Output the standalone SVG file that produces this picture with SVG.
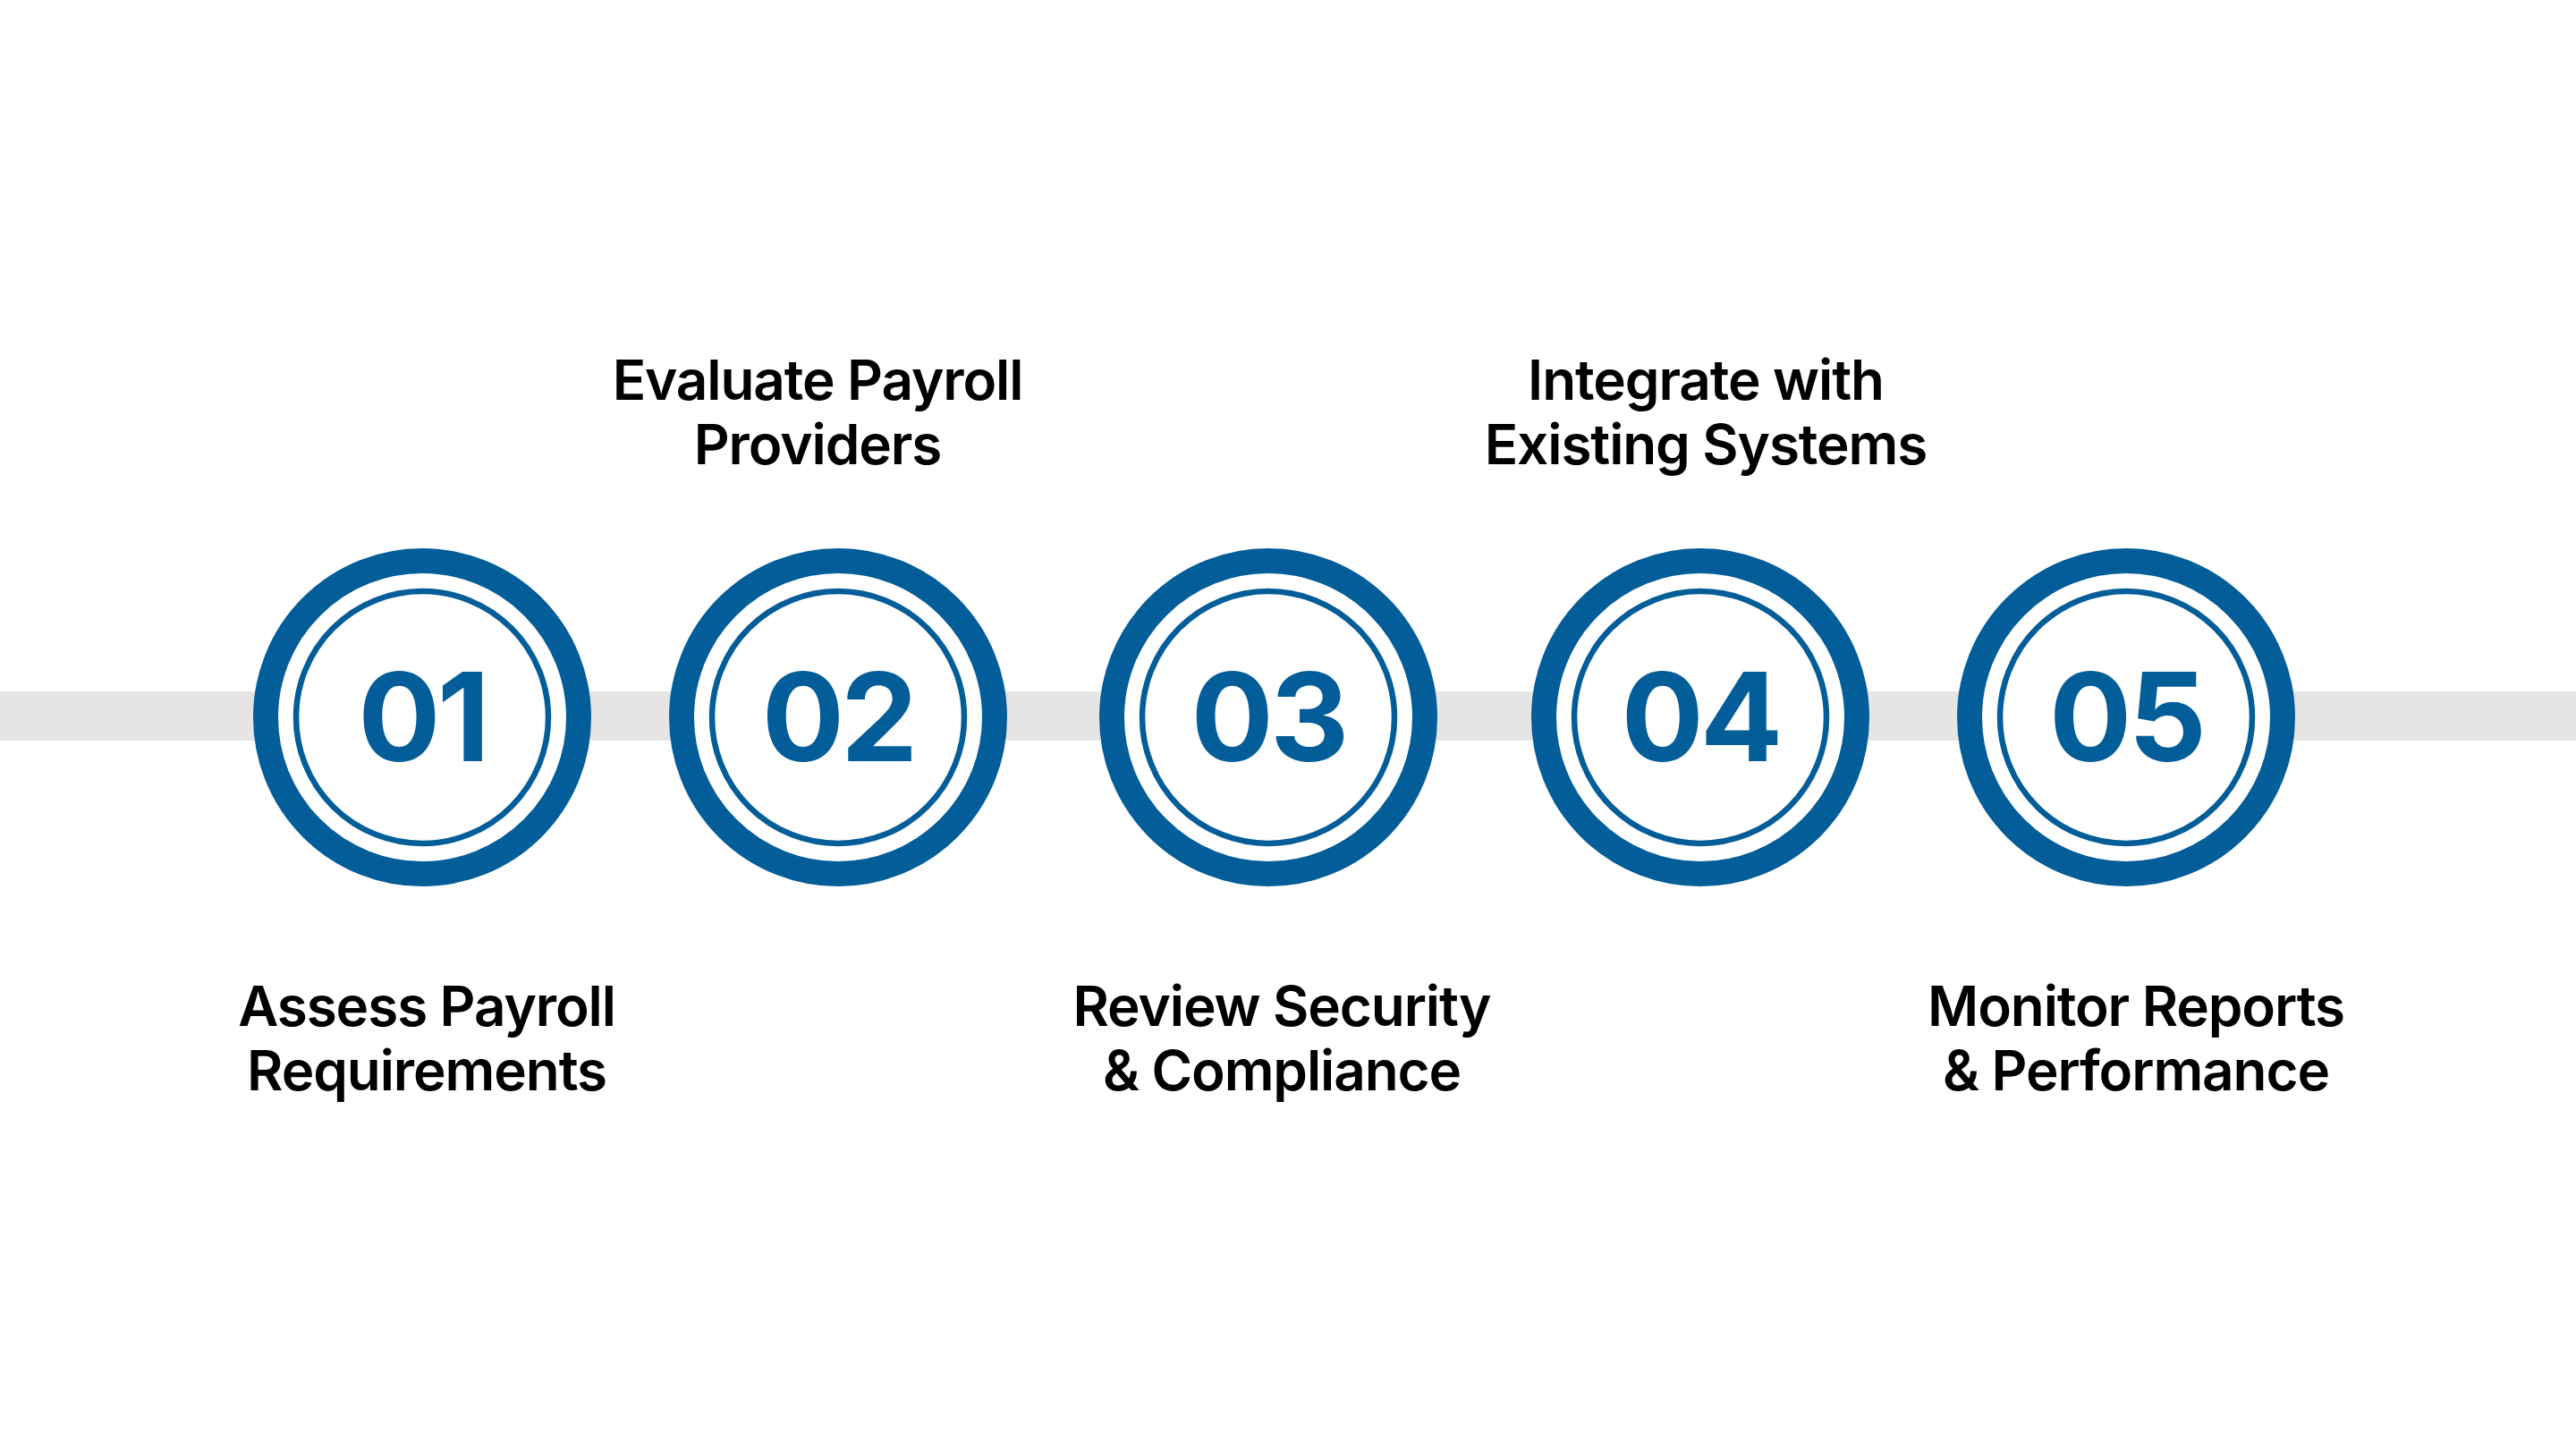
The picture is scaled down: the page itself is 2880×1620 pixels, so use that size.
<svg xmlns="http://www.w3.org/2000/svg" width="2880" height="1620" viewBox="0 0 2880 1620">
  <style>
    .ring { fill: #ffffff; stroke: #035d99; stroke-width: 28; }
    .inner { fill: none; stroke: #035d99; stroke-width: 6.5; }
    .num { font-family: Inter, "Liberation Sans", sans-serif; font-weight: 700; font-size: 137px; fill: #035d99; text-anchor: middle; letter-spacing: -4px; }
    .label { font-family: Inter, "Liberation Sans", sans-serif; font-weight: 600; font-size: 62px; fill: #000000; text-anchor: middle; letter-spacing: -1.1px; }
  </style>
  <rect x="0" y="0" width="2880" height="1620" fill="#ffffff"/>
  <g id="connectors">
    <rect x="0" y="773" width="2880" height="55" fill="#e5e5e5"/>
  </g>
  <g id="step1">
    <circle class="ring" cx="472" cy="802" r="175"/>
    <circle class="inner" cx="472" cy="802" r="141"/>
    <text class="num" x="472" y="851">01</text>
    <text class="label" x="477" y="1147">Assess Payroll</text>
    <text class="label" x="477" y="1219">Requirements</text>
  </g>
  <g id="step2">
    <circle class="ring" cx="937" cy="802" r="175"/>
    <circle class="inner" cx="937" cy="802" r="141"/>
    <text class="num" x="937" y="851">02</text>
    <text class="label" x="914" y="447">Evaluate Payroll</text>
    <text class="label" x="914" y="519">Providers</text>
  </g>
  <g id="step3">
    <circle class="ring" cx="1418" cy="802" r="175"/>
    <circle class="inner" cx="1418" cy="802" r="141"/>
    <text class="num" x="1418" y="851">03</text>
    <text class="label" x="1433" y="1147">Review Security</text>
    <text class="label" x="1433" y="1219">&amp; Compliance</text>
  </g>
  <g id="step4">
    <circle class="ring" cx="1901" cy="802" r="175"/>
    <circle class="inner" cx="1901" cy="802" r="141"/>
    <text class="num" x="1901" y="851">04</text>
    <text class="label" x="1907" y="447">Integrate with</text>
    <text class="label" x="1907" y="519">Existing Systems</text>
  </g>
  <g id="step5">
    <circle class="ring" cx="2377" cy="802" r="175"/>
    <circle class="inner" cx="2377" cy="802" r="141"/>
    <text class="num" x="2377" y="851">05</text>
    <text class="label" x="2388" y="1147">Monitor Reports</text>
    <text class="label" x="2388" y="1219">&amp; Performance</text>
  </g>
</svg>
